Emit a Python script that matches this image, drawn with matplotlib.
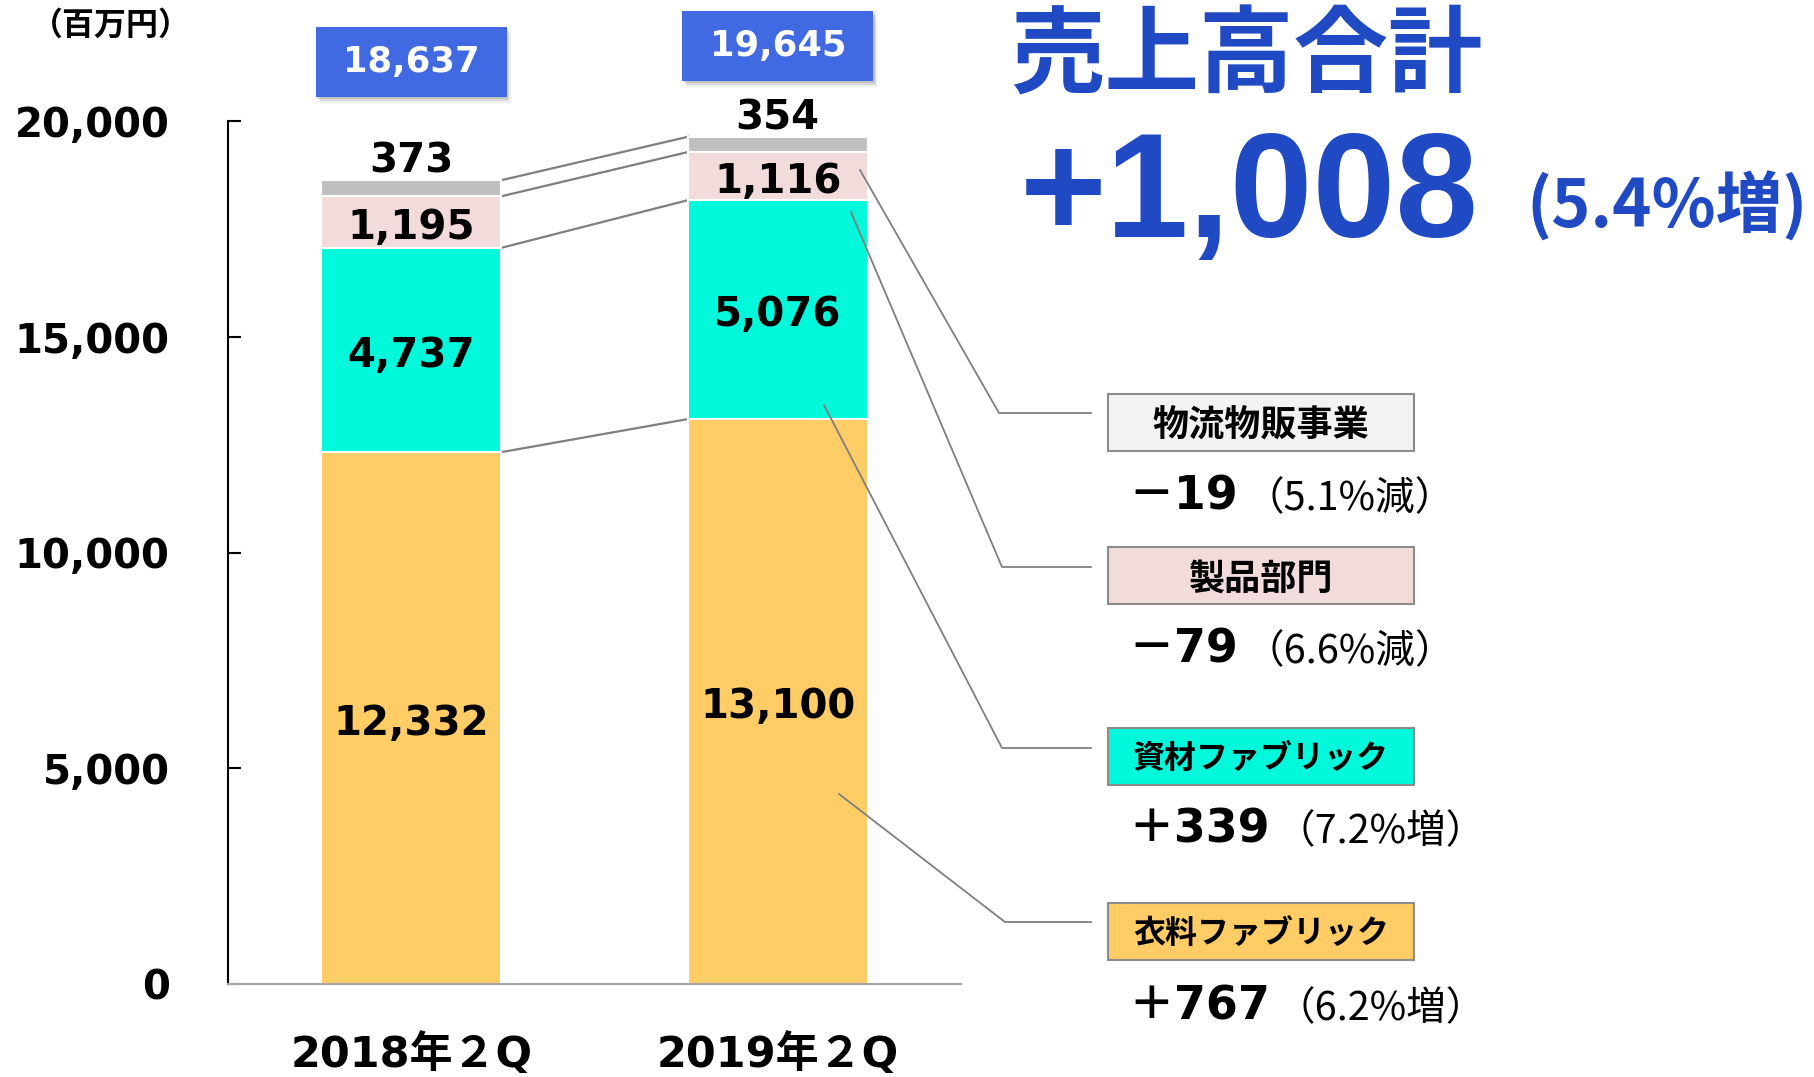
import numpy as np
import matplotlib
matplotlib.use("Agg")
import matplotlib.pyplot as plt
from matplotlib.patches import Rectangle
from matplotlib.lines import Line2D

plt.rcParams['font.family'] = ['DejaVu Sans', 'Noto Sans CJK JP']

# sales by segment (million yen), stacked bottom to top
periods = ['2018年２Q', '2019年２Q']
segments = ['衣料ファブリック', '資材ファブリック', '製品部門', '物流物販事業']
apparel = [12332, 13100]
materials = [4737, 5076]
products = [1195, 1116]
logistics = [373, 354]
totals = [18637, 19645]

# year-on-year change per segment, same order as segments
changes = ['＋767', '＋339', '－79', '－19']
change_pct = ['（6.2%増）', '（7.2%増）', '（6.6%減）', '（5.1%減）']
total_change = '+1,008'
total_pct = '(5.4%増)'
yticks = [0, 5000, 10000, 15000, 20000]

bar_colors = ['#FFCC66', '#00F9DA', '#F2DCDB', '#BFBFBF']
box_colors = ['#FFCC66', '#00F9DA', '#F2DCDB', '#F2F2F2']
blue = '#4169E1'
title_blue = '#2049C4'
line_grey = '#7F7F7F'

W, H = 1815, 1077
def fx(px):
    return px / W
def fy(py):
    return 1 - py / H

fig = plt.figure(figsize=(W / 100, H / 100), dpi=100)
ax = fig.add_axes([fx(228), fy(984), fx(961) - fx(228), fy(121.5) - fy(984)])

x = np.arange(len(periods))
bw = 0.49
stack = [apparel, materials, products, logistics]
bottom = np.zeros(len(periods))
levels = []
for k, (vals, c) in enumerate(zip(stack, bar_colors)):
    vals = np.array(vals)
    ax.bar(x, vals, bw, bottom=bottom, color=c, edgecolor='white', linewidth=1.5, zorder=2)
    for i in range(len(x)):
        if k < 3:
            ax.annotate(f'{vals[i]:,}', (x[i], bottom[i] + vals[i] / 2), xytext=(0, -4),
                        textcoords='offset points', ha='center', va='center',
                        fontsize=29, fontweight='bold', zorder=4)
        else:
            ax.annotate(f'{vals[i]:,}', (x[i], bottom[i] + vals[i]), xytext=(0, -1),
                        textcoords='offset points', ha='center', va='bottom',
                        fontsize=29, fontweight='bold', zorder=4)
    bottom = bottom + vals
    levels.append(bottom.copy())

# connectors between matching segment tops
for lv in levels:
    ax.plot([x[0] + bw / 2, x[1] - bw / 2], lv, color=line_grey, lw=1.6, zorder=1)

# total boxes above each bar
box_w, box_h = 0.52, 1624
box_gap = [1920, 1283]
for i in range(len(x)):
    y0 = totals[i] + box_gap[i]
    for s, a in [(3, 0.12), (2, 0.18), (1, 0.25)]:
        ax.add_patch(Rectangle((x[i] - box_w / 2 + s * 0.004, y0 - s * 40), box_w, box_h,
                               facecolor='#808080', alpha=a, edgecolor='none',
                               clip_on=False, zorder=4))
    ax.add_patch(Rectangle((x[i] - box_w / 2, y0), box_w, box_h, facecolor=blue,
                           edgecolor='none', clip_on=False, zorder=5))
    ax.text(x[i], y0 + box_h / 2, f'{totals[i]:,}', ha='center', va='center',
            color='white', fontsize=25.5, fontweight='bold', zorder=6, clip_on=False)

ax.set_xlim(-0.5, 1.5)
ax.set_ylim(0, 20000)
for side in ['top', 'right']:
    ax.spines[side].set_visible(False)
ax.spines['left'].set_color('black')
ax.spines['left'].set_linewidth(1.5)
ax.spines['bottom'].set_color('#A6A6A6')
ax.spines['bottom'].set_linewidth(1.5)
ax.set_yticks(yticks, [f'{v:,}' for v in yticks])
ax.set_xticks(x, periods)
ax.tick_params(axis='y', direction='in', length=9, width=1.5, pad=42, labelsize=29)
ax.tick_params(axis='x', length=0, pad=35, labelsize=31)
for lab in ax.get_yticklabels() + ax.get_xticklabels():
    lab.set_fontweight('bold')

fig.text(fx(111), fy(26), '（百万円）', ha='center', va='center', fontsize=23,
         fontweight='bold', family=['Noto Sans CJK JP'])

# headline
fig.text(fx(1010), fy(58), '売上高合計', ha='left', va='center', fontsize=68,
         fontweight='bold', color=title_blue, family=['Noto Sans CJK JP'])
fig.text(fx(1020), fy(199), total_change, ha='left', va='center', fontsize=107,
         fontweight='bold', color=title_blue, family=['Liberation Sans', 'DejaVu Sans'])
fig.text(fx(1526), fy(207), total_pct, ha='left', va='center', fontsize=48,
         fontweight='bold', color=title_blue, family=['Noto Sans CJK JP'])

# segment legend boxes with leader lines, same order as segments
leaders = [
    [(839, 794), (1005, 922), (1091, 922)],
    [(824, 405), (1002, 748), (1091, 748)],
    [(851, 212), (1002, 567), (1091, 567)],
    [(860, 170), (999, 413), (1091, 413)],
]
box_tops = [903, 728, 547, 394]
label_size = [23, 23, 26, 26]
row_y = [1007, 830, 650, 497]
pct_x = [1276, 1276, 1245, 1245]
for k in range(len(segments)):
    pts = leaders[k]
    fig.add_artist(Line2D([fx(p[0]) for p in pts], [fy(p[1]) for p in pts],
                          color=line_grey, lw=1.3))
    top = box_tops[k]
    fig.add_artist(Rectangle((fx(1108), fy(top + 57)), fx(306), 57 / H,
                             facecolor=box_colors[k], edgecolor='#8C8C8C', lw=1.5))
    fig.text(fx(1261), fy(top + 32), segments[k], ha='center', va='center',
             fontsize=label_size[k], fontweight='bold', family=['Noto Sans CJK JP'])
    fig.text(fx(1128), fy(row_y[k]), changes[k], ha='left', va='center',
             fontsize=33, fontweight='bold')
    fig.text(fx(pct_x[k]), fy(row_y[k] + 2), change_pct[k], ha='left', va='center',
             fontsize=28.5, family=['Noto Sans CJK JP'])

fig.savefig('out.png', dpi=100)
